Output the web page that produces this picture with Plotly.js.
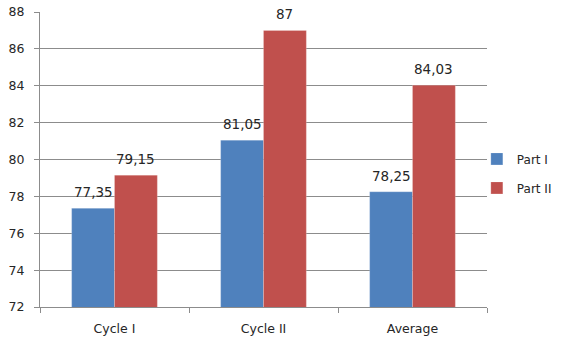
<!DOCTYPE html>
<html>
<head>
<meta charset="utf-8">
<script src="https://cdn.plot.ly/plotly-3.0.1.min.js"></script>
<style>
  html, body { margin: 0; padding: 0; background: #ffffff; }
  #chart { width: 561px; height: 340px; }
</style>
</head>
<body>
<div id="chart"></div>
<script>
// Scores per cycle for the two parts
const categories = ["Cycle I", "Cycle II", "Average"];
const partI = [77.35, 81.05, 78.25];
const partII = [79.15, 87, 84.03];
const seriesNames = ["Part I", "Part II"];
const yTicks = [72, 74, 76, 78, 80, 82, 84, 86, 88];

const colors = ["#4F81BD", "#C0504D"];
const font = "DejaVu Sans, Arial, sans-serif";
const textColor = "#262626";
const gridColor = "#8c8c8c";
const barGap = 0.425;

// decimal comma, as in the labels
const fmt = v => String(v).replace(".", ",");

const traces = [partI, partII].map((vals, k) => ({
  type: "bar",
  name: seriesNames[k],
  x: categories,
  y: vals,
  legendgroup: "g" + k,
  marker: { color: colors[k], line: { color: "rgba(255,255,255,0.35)", width: 0.6 } },
  hoverinfo: "none"
}));

// value labels above each bar, centred on the bar within its group
const half = (1 - barGap) / 4;
const annotations = [];
[partI, partII].forEach((vals, k) => {
  vals.forEach((v, i) => {
    annotations.push({
      x: i + (k === 0 ? -half : half),
      xref: "x",
      y: v,
      yref: "y",
      text: fmt(v),
      showarrow: false,
      yanchor: "bottom",
      yshift: 6,
      font: { family: font, size: 13.5, color: textColor }
    });
  });
});

const layout = {
  width: 561,
  height: 340,
  margin: { l: 40, r: 74, t: 12, b: 33, autoexpand: false },
  paper_bgcolor: "#ffffff",
  plot_bgcolor: "#ffffff",
  font: { family: font, size: 12, color: textColor },
  barmode: "group",
  bargap: barGap,
  bargroupgap: 0,
  showlegend: true,
  legend: {
    xref: "container",
    yref: "container",
    x: 0.85,
    xanchor: "left",
    y: 0.49,
    yanchor: "middle",
    tracegroupgap: 10,
    itemwidth: 30,
    font: { family: font, size: 12, color: textColor },
    bgcolor: "rgba(0,0,0,0)"
  },
  xaxis: {
    type: "category",
    tickson: "boundaries",
    ticks: "outside",
    ticklen: 5,
    tickcolor: gridColor,
    showline: true,
    linecolor: gridColor,
    linewidth: 1,
    showgrid: false,
    zeroline: false,
    ticklabelstandoff: 10,
    tickfont: { family: font, size: 12.5, color: textColor },
    fixedrange: true
  },
  yaxis: {
    range: [72, 88],
    tickvals: yTicks,
    ticktext: yTicks.map(String),
    ticks: "outside",
    ticklen: 5,
    tickcolor: gridColor,
    showline: true,
    linecolor: gridColor,
    linewidth: 1,
    showgrid: true,
    gridcolor: gridColor,
    gridwidth: 1,
    zeroline: false,
    ticklabelstandoff: 7,
    tickfont: { family: font, size: 12.5, color: textColor },
    fixedrange: true
  },
  annotations: annotations
};

Plotly.newPlot("chart", traces, layout, { displayModeBar: false, staticPlot: true });
</script>
</body>
</html>
